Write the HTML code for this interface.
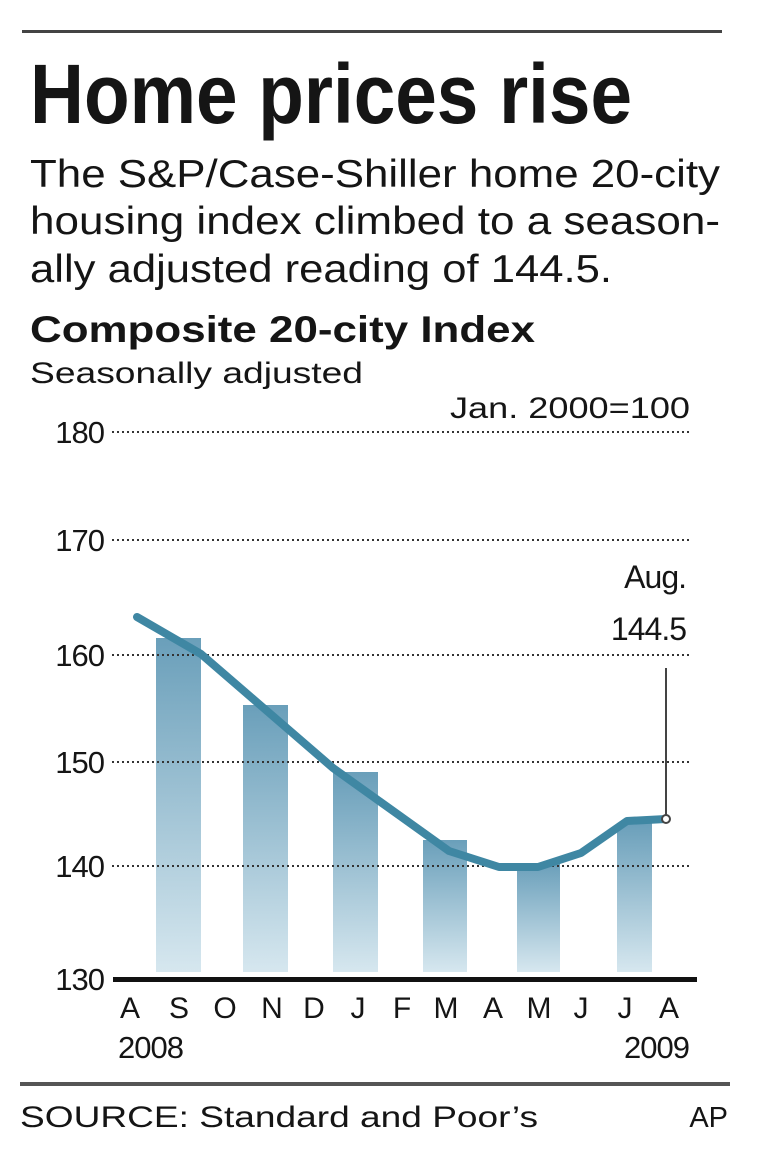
<!DOCTYPE html>
<html><head><meta charset="utf-8"><style>
html,body{margin:0;padding:0;background:#fff;}
svg{display:block;}
text{font-family:"Liberation Sans",sans-serif;fill:#151515;}
</style></head><body>
<svg width="760" height="1165" viewBox="0 0 760 1165" xmlns="http://www.w3.org/2000/svg">
<defs>
<linearGradient id="g" x1="0" y1="0" x2="0" y2="1">
<stop offset="0" stop-color="#6a9fba"/><stop offset="1" stop-color="#d6e7ef"/>
</linearGradient>
</defs>
<rect x="22" y="30" width="700" height="3" fill="#444"/>
<text x="30" y="123" font-size="84" font-weight="bold" textLength="602" lengthAdjust="spacingAndGlyphs">Home prices rise</text>
<text x="30" y="187" font-size="39" textLength="690" lengthAdjust="spacingAndGlyphs">The S&amp;P/Case-Shiller home 20-city</text>
<text x="30" y="234" font-size="39" textLength="690" lengthAdjust="spacingAndGlyphs">housing index climbed to a season-</text>
<text x="30" y="282" font-size="39" textLength="582" lengthAdjust="spacingAndGlyphs">ally adjusted reading of 144.5.</text>
<text x="30" y="342" font-size="37" font-weight="bold" textLength="505" lengthAdjust="spacingAndGlyphs">Composite 20-city Index</text>
<text x="30" y="383" font-size="30" fill="#333" textLength="333" lengthAdjust="spacingAndGlyphs">Seasonally adjusted</text>
<text x="690" y="418" font-size="30" text-anchor="end" textLength="240" lengthAdjust="spacingAndGlyphs">Jan. 2000=100</text>
<g fill="url(#g)">
<rect x="156" y="638" width="45" height="334"/>
<rect x="243" y="705" width="45" height="267"/>
<rect x="333" y="772" width="45" height="200"/>
<rect x="423" y="840" width="44" height="132"/>
<rect x="517" y="863" width="43" height="109"/>
<rect x="617" y="823" width="35" height="149"/>
</g>
<g stroke="#333" stroke-width="2" stroke-dasharray="2,3">
<line x1="112" y1="432" x2="690" y2="432"/>
<line x1="112" y1="540" x2="690" y2="540"/>
<line x1="112" y1="655" x2="690" y2="655"/>
<line x1="112" y1="762" x2="690" y2="762"/>
<line x1="112" y1="866" x2="690" y2="866"/>
</g>
<g font-size="31" text-anchor="end" letter-spacing="-1">
<text x="104" y="443">180</text>
<text x="104" y="551">170</text>
<text x="104" y="666">160</text>
<text x="104" y="773">150</text>
<text x="104" y="877">140</text>
<text x="104" y="990">130</text>
</g>
<rect x="113" y="977" width="584" height="5" fill="#111"/>
<line x1="666" y1="668" x2="666" y2="818" stroke="#444" stroke-width="2"/>
<polyline points="137,617 201,654 333,768 449,851 499,867 538,867 581,853 627,821 666,819" fill="none" stroke="#3f87a3" stroke-width="8" stroke-linejoin="round" stroke-linecap="round"/>
<circle cx="666" cy="819" r="4" fill="#fff" stroke="#444" stroke-width="2"/>
<text x="686" y="588" font-size="32" text-anchor="end" letter-spacing="-1">Aug.</text>
<text x="686" y="640" font-size="32" text-anchor="end" letter-spacing="-1">144.5</text>
<g font-size="30" text-anchor="middle">
<text x="130" y="1018">A</text><text x="179" y="1018">S</text><text x="225" y="1018">O</text>
<text x="272" y="1018">N</text><text x="314" y="1018">D</text><text x="358" y="1018">J</text>
<text x="402" y="1018">F</text><text x="446" y="1018">M</text><text x="493" y="1018">A</text>
<text x="539" y="1018">M</text><text x="581" y="1018">J</text><text x="625" y="1018">J</text>
<text x="669" y="1018">A</text>
</g>
<text x="118" y="1058" font-size="31" letter-spacing="-1">2008</text>
<text x="689" y="1058" font-size="31" text-anchor="end" letter-spacing="-1">2009</text>
<rect x="20" y="1082" width="710" height="4" fill="#555"/>
<text x="20" y="1127" font-size="30" textLength="518" lengthAdjust="spacingAndGlyphs">SOURCE: Standard and Poor’s</text>
<text x="728" y="1127" font-size="29" text-anchor="end">AP</text>
</svg>
</body></html>
